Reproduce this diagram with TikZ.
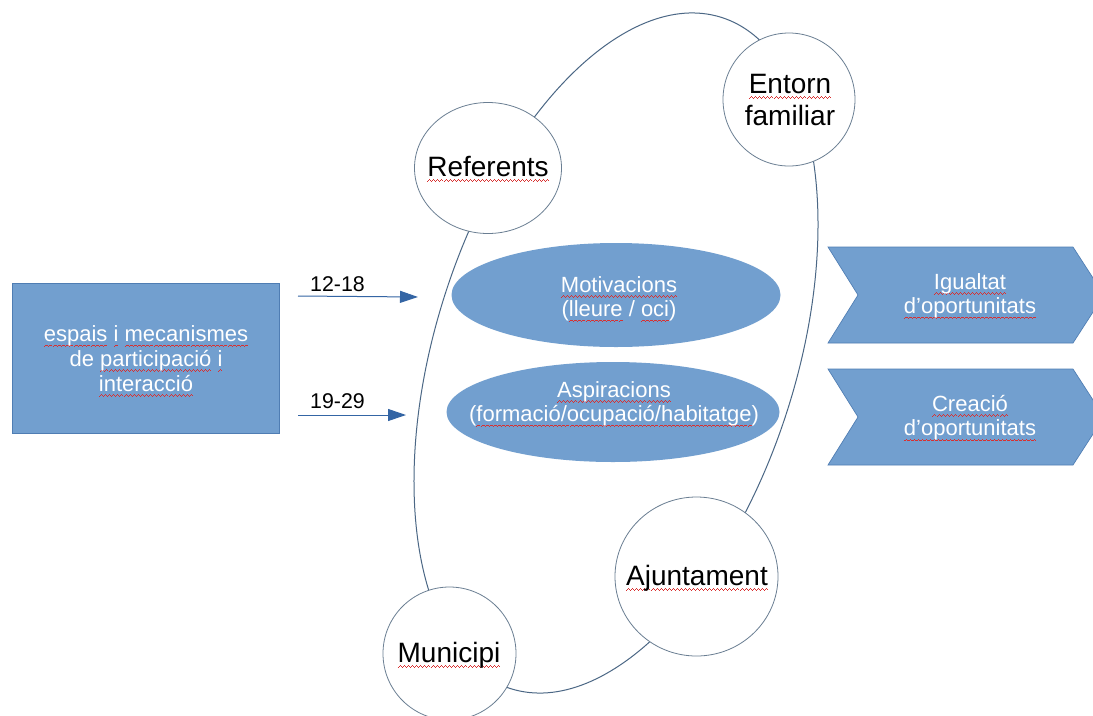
\documentclass[tikz,border=0pt]{standalone}
\usepackage{fontspec}
\setmainfont{Liberation Sans}
\usetikzlibrary{shapes.geometric,arrows.meta}
\definecolor{boxblue}{HTML}{729FCF}
\definecolor{boxedge}{HTML}{4F7DB3}
\definecolor{loopline}{HTML}{4B6785}
\definecolor{circline}{HTML}{6A7E92}
\definecolor{arrowblue}{HTML}{3465A4}
\definecolor{spell}{HTML}{D83030}
\newcommand\wavecell{\hbox{\rule[-3.9pt]{0.75pt}{0.55pt}\rule[-3.3pt]{0.75pt}{0.55pt}\rule[-2.7pt]{0.75pt}{0.55pt}\rule[-3.3pt]{0.75pt}{0.55pt}}}
\newcommand\spl[1]{\setbox0\hbox{#1}\leavevmode\rlap{\hbox to\wd0{\color{spell}\xleaders\wavecell\hfil}}\box0\relax}
\begin{document}
\begin{tikzpicture}[x=0.75pt,y=-0.75pt,
  bigtxt/.style={font=\fontsize{21}{24}\selectfont},
  smalltxt/.style={font=\fontsize{16.5}{18.5}\selectfont},
  bluebox/.style={rectangle, fill=boxblue, draw=boxedge, line width=0.6pt, inner sep=0pt},
  blueell/.style={ellipse, fill=boxblue, draw=none, inner sep=0pt},
  circ/.style={ellipse, fill=white, draw=circline, line width=0.6pt, inner sep=0pt},
  wtxt/.style={text=white, align=center, smalltxt, inner sep=0pt},
  ctxt/.style={text=black, align=center, bigtxt, inner sep=0pt},
  loopst/.style={draw=loopline, line width=0.75pt},
  chev/.style={fill=boxblue, draw=boxedge, line width=0.5pt},
  arr/.style={draw=arrowblue, line width=0.75pt, -{Triangle[length=13.5pt,width=9pt]}},
  lbl/.style={text=black, font=\fontsize{16}{18}\selectfont, inner sep=0pt}
]
\useasboundingbox (0,0) rectangle (1093,715);
\fill[white] (0,0) rectangle (1093,715);

% loop
\draw[loopst, rotate around={-17.4:(616,353)}] (616,353) ellipse [x radius=180.7, y radius=351.8];

% left box
\node[bluebox, minimum width=267*0.75pt, minimum height=150*0.75pt] (box) at (145.5,358) {};
\node[wtxt] (boxT) at (146,361)
  {\spl{espais} \spl{i} \spl{mecanismes}\\de \spl{participació} \spl{i}\\\spl{interacció}};

% arrows
\coordinate (a1s) at (298,296);
\coordinate (a1e) at (418,297);
\coordinate (a2s) at (298,415);
\coordinate (a2e) at (406,415);
\draw[arr] (a1s) -- (a1e);
\draw[arr] (a2s) -- (a2e);
\node[lbl] (l1) at (337.5,284) {12-18};
\node[lbl] (l2) at (337.5,401) {19-29};

% inner ellipses
\node[blueell, minimum width=329*0.75pt, minimum height=104*0.75pt] (mot) at (616,295) {};
\node[wtxt] (motT) at (619,299) {\spl{Motivacions}\\(\spl{lleure} / \spl{oci})};
\node[blueell, minimum width=333*0.75pt, minimum height=100*0.75pt] (asp) at (613,412) {};
\node[wtxt] (aspT) at (614,404) {\spl{Aspiracions}\\(\spl{formació/ocupació/habitatge})};

% circles
\node[circ, minimum width=147*0.75pt, minimum height=131*0.75pt] (ref) at (488,168) {};
\node[ctxt] (refT) at (488,169) {\spl{Referents}};
\node[circ, minimum width=132*0.75pt, minimum height=133*0.75pt] (ent) at (789,99.5) {};
\node[ctxt] (entT) at (790,100) {\spl{Entorn}\\familiar};
\node[circ, minimum width=163*0.75pt, minimum height=159*0.75pt] (aju) at (696.5,576.5) {};
\node[ctxt] (ajuT) at (697,578) {\spl{Ajuntament}};
\node[circ, minimum width=133*0.75pt, minimum height=133*0.75pt] (mun) at (449.5,653.5) {};
\node[ctxt] (munT) at (449,655) {\spl{Municipi}};

% chevrons
\filldraw[chev] (828,247) -- (1073,247) -- (1104,295) -- (1073,343) -- (828,343) -- (858,295) -- cycle;
\node[wtxt] (igu) at (970,296) {\spl{Igualtat}\\\spl{d’oportunitats}};
\filldraw[chev] (828,369) -- (1073,369) -- (1104,417) -- (1073,465) -- (828,465) -- (858,417) -- cycle;
\node[wtxt] (cre) at (970,418) {\spl{Creació}\\\spl{d’oportunitats}};
\end{tikzpicture}
\end{document}
